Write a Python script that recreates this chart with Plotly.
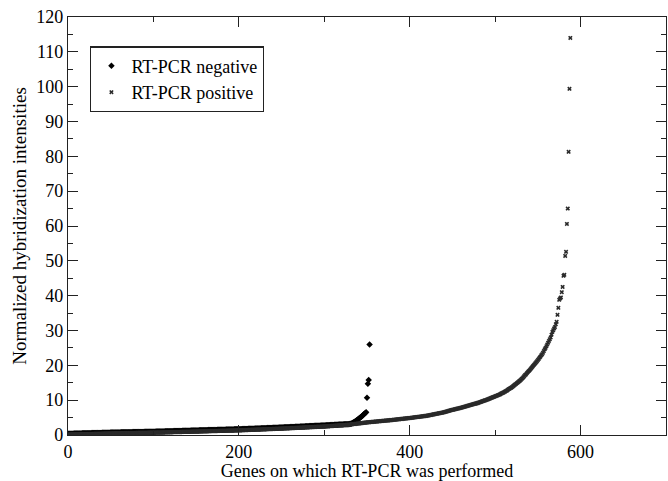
import plotly.graph_objects as go

# RT-PCR negative genes: sorted normalized hybridization intensities
neg_values = [
    0.35,0.36,0.37,0.37,0.38,0.39,0.39,0.40,0.41,0.41,
    0.42,0.43,0.43,0.44,0.45,0.45,0.46,0.47,0.47,0.48,
    0.49,0.49,0.50,0.51,0.51,0.52,0.53,0.53,0.54,0.55,
    0.55,0.56,0.57,0.57,0.58,0.59,0.59,0.60,0.61,0.61,
    0.62,0.63,0.63,0.64,0.65,0.65,0.66,0.67,0.67,0.68,
    0.70,0.70,0.71,0.71,0.72,0.72,0.73,0.73,0.74,0.74,
    0.75,0.75,0.76,0.76,0.77,0.77,0.78,0.78,0.79,0.79,
    0.80,0.80,0.81,0.81,0.82,0.82,0.83,0.83,0.84,0.84,
    0.85,0.85,0.86,0.86,0.87,0.87,0.88,0.88,0.89,0.89,
    0.90,0.90,0.91,0.91,0.92,0.92,0.93,0.93,0.94,0.94,
    0.95,0.96,0.96,0.97,0.98,0.99,0.99,1.00,1.01,1.01,
    1.02,1.03,1.03,1.04,1.05,1.06,1.06,1.07,1.08,1.08,
    1.09,1.10,1.10,1.11,1.12,1.13,1.13,1.14,1.15,1.15,
    1.16,1.17,1.17,1.18,1.19,1.20,1.20,1.21,1.22,1.22,
    1.23,1.24,1.24,1.25,1.26,1.27,1.27,1.28,1.29,1.29,
    1.30,1.31,1.31,1.32,1.33,1.34,1.34,1.35,1.36,1.36,
    1.37,1.38,1.38,1.39,1.40,1.41,1.41,1.42,1.43,1.43,
    1.44,1.45,1.45,1.46,1.47,1.48,1.48,1.49,1.50,1.50,
    1.51,1.52,1.52,1.53,1.54,1.55,1.55,1.56,1.57,1.57,
    1.58,1.59,1.59,1.60,1.61,1.62,1.62,1.63,1.64,1.64,
    1.65,1.66,1.67,1.68,1.69,1.70,1.71,1.72,1.73,1.74,
    1.75,1.76,1.77,1.78,1.79,1.80,1.81,1.82,1.83,1.84,
    1.85,1.86,1.87,1.88,1.89,1.90,1.91,1.92,1.93,1.94,
    1.95,1.96,1.97,1.98,1.99,2.00,2.01,2.02,2.03,2.04,
    2.05,2.06,2.07,2.08,2.09,2.10,2.11,2.12,2.13,2.14,
    2.15,2.16,2.17,2.19,2.20,2.21,2.22,2.23,2.25,2.26,
    2.27,2.28,2.29,2.31,2.32,2.33,2.34,2.35,2.37,2.38,
    2.39,2.40,2.41,2.43,2.44,2.45,2.46,2.47,2.49,2.50,
    2.51,2.52,2.53,2.55,2.56,2.57,2.58,2.59,2.61,2.62,
    2.63,2.64,2.65,2.67,2.68,2.69,2.70,2.71,2.73,2.74,
    2.75,2.76,2.78,2.79,2.80,2.82,2.83,2.84,2.86,2.87,
    2.88,2.90,2.91,2.92,2.94,2.95,2.96,2.98,2.99,3.00,
    3.02,3.03,3.04,3.06,3.07,3.08,3.10,3.11,3.12,3.14,
    3.16,3.20,3.30,3.45,3.60,3.75,3.90,4.05,4.20,4.40,
    4.60,4.80,5.00,5.20,5.40,5.60,5.85,6.10,6.30,6.50,
    10.7,14.7,15.8,26.0,
]

# RT-PCR positive genes: sorted normalized hybridization intensities
pos_values = [
    0.15,0.16,0.16,0.17,0.17,0.18,0.19,0.19,0.20,0.20,
    0.21,0.22,0.22,0.23,0.23,0.24,0.25,0.25,0.26,0.26,
    0.27,0.28,0.28,0.29,0.29,0.30,0.31,0.31,0.32,0.32,
    0.33,0.34,0.34,0.35,0.35,0.36,0.37,0.37,0.38,0.38,
    0.39,0.40,0.40,0.41,0.41,0.42,0.43,0.43,0.44,0.44,
    0.45,0.46,0.46,0.47,0.47,0.48,0.48,0.49,0.49,0.50,
    0.50,0.51,0.51,0.52,0.52,0.53,0.53,0.54,0.54,0.55,
    0.55,0.56,0.56,0.57,0.57,0.58,0.58,0.59,0.59,0.60,
    0.60,0.61,0.61,0.62,0.62,0.63,0.63,0.64,0.64,0.65,
    0.65,0.66,0.66,0.67,0.67,0.68,0.68,0.69,0.69,0.70,
    0.70,0.71,0.71,0.72,0.72,0.73,0.74,0.74,0.75,0.75,
    0.76,0.77,0.77,0.78,0.78,0.79,0.80,0.80,0.81,0.81,
    0.82,0.83,0.83,0.84,0.84,0.85,0.86,0.86,0.87,0.87,
    0.88,0.89,0.89,0.90,0.90,0.91,0.92,0.92,0.93,0.93,
    0.94,0.95,0.95,0.96,0.96,0.97,0.98,0.98,0.99,0.99,
    1.00,1.01,1.01,1.02,1.03,1.04,1.04,1.05,1.06,1.06,
    1.07,1.08,1.08,1.09,1.10,1.11,1.11,1.12,1.13,1.13,
    1.14,1.15,1.15,1.16,1.17,1.18,1.18,1.19,1.20,1.20,
    1.21,1.22,1.22,1.23,1.24,1.25,1.25,1.26,1.27,1.27,
    1.28,1.29,1.29,1.30,1.31,1.32,1.32,1.33,1.34,1.34,
    1.35,1.36,1.37,1.38,1.39,1.40,1.41,1.42,1.43,1.44,
    1.45,1.46,1.47,1.48,1.49,1.50,1.51,1.52,1.53,1.54,
    1.55,1.56,1.57,1.58,1.59,1.60,1.61,1.62,1.63,1.64,
    1.65,1.66,1.67,1.68,1.69,1.70,1.71,1.72,1.73,1.74,
    1.75,1.76,1.77,1.78,1.79,1.80,1.81,1.82,1.83,1.84,
    1.85,1.86,1.87,1.89,1.90,1.91,1.92,1.93,1.95,1.96,
    1.97,1.98,1.99,2.01,2.02,2.03,2.04,2.05,2.07,2.08,
    2.09,2.10,2.11,2.13,2.14,2.15,2.16,2.17,2.19,2.20,
    2.21,2.22,2.23,2.25,2.26,2.27,2.28,2.29,2.31,2.32,
    2.33,2.34,2.35,2.37,2.38,2.39,2.40,2.41,2.43,2.44,
    2.45,2.47,2.49,2.50,2.52,2.54,2.56,2.58,2.59,2.61,
    2.63,2.65,2.67,2.68,2.70,2.72,2.74,2.76,2.77,2.79,
    2.81,2.83,2.85,2.86,2.88,2.90,2.92,2.94,2.95,2.97,
    3.01,3.04,3.07,3.10,3.13,3.16,3.19,3.22,3.25,3.28,
    3.31,3.34,3.37,3.40,3.43,3.46,3.49,3.52,3.55,3.58,
    3.61,3.63,3.66,3.68,3.70,3.73,3.75,3.78,3.80,3.82,
    3.85,3.87,3.89,3.92,3.94,3.97,3.99,4.01,4.04,4.06,
    4.08,4.11,4.13,4.16,4.18,4.20,4.23,4.25,4.27,4.30,
    4.32,4.35,4.38,4.40,4.43,4.46,4.49,4.52,4.54,4.57,
    4.60,4.63,4.66,4.68,4.71,4.74,4.77,4.80,4.82,4.85,
    4.88,4.91,4.94,4.98,5.01,5.04,5.07,5.10,5.14,5.17,
    5.20,5.23,5.26,5.30,5.33,5.36,5.39,5.42,5.46,5.49,
    5.52,5.57,5.62,5.67,5.72,5.77,5.82,5.87,5.92,5.97,
    6.02,6.07,6.12,6.17,6.22,6.27,6.32,6.37,6.42,6.47,
    6.52,6.59,6.66,6.73,6.80,6.87,6.94,7.01,7.08,7.15,
    7.22,7.28,7.34,7.40,7.46,7.52,7.58,7.64,7.70,7.76,
    7.82,7.89,7.96,8.03,8.10,8.17,8.24,8.31,8.38,8.45,
    8.52,8.59,8.66,8.73,8.80,8.87,8.94,9.01,9.08,9.15,
    9.22,9.31,9.40,9.49,9.58,9.67,9.76,9.85,9.94,10.0,
    10.1,10.2,10.3,10.4,10.5,10.6,10.7,10.8,10.9,11.0,
    11.1,11.2,11.3,11.4,11.5,11.6,11.7,11.9,12.0,12.1,
    12.2,12.4,12.5,12.7,12.8,13.0,13.2,13.3,13.5,13.6,
    13.8,14.0,14.2,14.4,14.6,14.8,15.0,15.2,15.4,15.6,
    15.8,16.1,16.3,16.6,16.9,17.2,17.4,17.7,18.0,18.3,
    18.5,18.8,19.1,19.4,19.7,20.0,20.3,20.6,20.9,21.2,
    21.5,21.8,22.2,22.5,22.9,23.2,23.6,24.1,24.6,25.0,
    25.5,26.0,26.5,27.0,27.5,28.0,28.8,29.6,30.1,30.6,
    31.0,31.8,32.5,34.5,36.5,38.8,39.2,39.5,41.0,42.5,
    45.7,46.0,51.4,52.6,60.6,65.0,81.3,99.4,114.0,
]

neg_genes = list(range(len(neg_values)))
pos_genes = list(range(len(pos_values)))

x_ticks = [0, 200, 400, 600]
y_ticks = [0, 10, 20, 30, 40, 50, 60, 70, 80, 90, 100, 110, 120]

FONT = "Liberation Serif"

fig = go.Figure()
fig.add_trace(go.Scatter(
    x=neg_genes, y=neg_values, mode="markers", name="RT-PCR negative",
    marker=dict(symbol="diamond", size=5, color="black"),
))
fig.add_trace(go.Scatter(
    x=pos_genes, y=pos_values, mode="markers", name="RT-PCR positive",
    marker=dict(symbol="x", size=4, color="#2a2a2a"),
))

axis_common = dict(
    showline=True, linecolor="#222", linewidth=1.3, mirror="ticks",
    ticks="inside", tickcolor="#222", showgrid=False, zeroline=False,
    tickfont=dict(family=FONT, size=18, color="black"),
)

fig.update_layout(
    width=668, height=481,
    margin=dict(l=68, r=2, t=17, b=46),
    paper_bgcolor="white", plot_bgcolor="white",
    font=dict(family=FONT, size=18, color="black"),
    showlegend=True,
    legend=dict(
        x=0.037, y=0.93, xanchor="left", yanchor="top",
        bordercolor="#222", borderwidth=1.3, bgcolor="white",
        font=dict(family=FONT, size=18, color="black"),
        itemwidth=30, tracegroupgap=0,
    ),
    xaxis=dict(
        range=[0, 700], tickvals=x_ticks, ticklen=10, tickwidth=1.3,
        minor=dict(dtick=100, tick0=0, ticklen=5, ticks="inside", tickcolor="#222"),
        title=dict(text="Genes on which RT-PCR was performed",
                   font=dict(family=FONT, size=18), standoff=0),
        **axis_common,
    ),
    yaxis=dict(
        range=[0, 120], tickvals=y_ticks, ticklen=10, tickwidth=1.3,
        minor=dict(dtick=5, tick0=0, ticklen=5, ticks="inside", tickcolor="#222"),
        title=dict(text="Normalized hybridization intensities",
                   font=dict(family=FONT, size=19), standoff=4),
        **axis_common,
    ),
)

fig.write_html(
    "out.html",
    config={"displayModeBar": False},
    post_script="document.body.style.margin='0';document.body.style.overflow='hidden';",
)
